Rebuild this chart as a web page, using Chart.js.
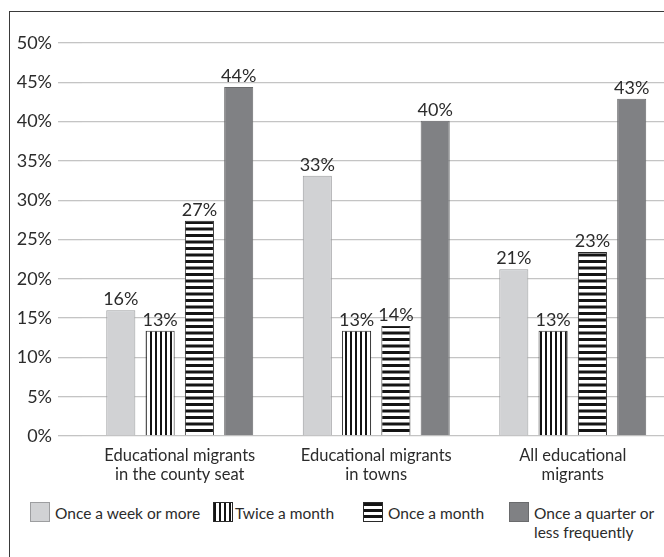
<!DOCTYPE html>
<html>
<head>
<meta charset="utf-8">
<script src="https://cdn.jsdelivr.net/npm/chart.js@4"></script>
<style>
  html, body { margin: 0; padding: 0; background: #fff; overflow: hidden; width: 664px; height: 557px; }
  #marco { position: absolute; left: 9px; top: 11px; width: 700px; height: 600px; border-left: 1.5px solid #3a3a3a; border-top: 1.5px solid #3a3a3a; }
  #lienzo { position: absolute; left: 0; top: 0; width: 672px; height: 500px; }
  .ley { position: absolute; font-family: Lato, sans-serif; font-size: 15.5px; color: #2b2b2b; line-height: 19px; white-space: nowrap; }
  .caja { position: absolute; width: 20px; height: 20px; box-sizing: border-box; }
</style>
</head>
<body>
<div id="marco"></div>
<div id="lienzo"><canvas id="grafico"></canvas></div>
<div id="leyenda"></div>
<script>
// Frecuencia de visitas a casa, por tipo de migrante educativo (%)
const categorias = [
  ["Educational migrants", "in the county seat"],
  ["Educational migrants", "in towns"],
  ["All educational", "migrants"],
];
const series = ["Once a week or more", "Twice a month", "Once a month", "Once a quarter or\nless frequently"];
const semanal = [16.0, 33.1, 21.2];
const quincenal = [13.4, 13.4, 13.4];
const mensual = [27.4, 14.0, 23.4];
const trimestral = [44.4, 40.1, 42.9];
const ejeY = { min: 0, max: 50, paso: 5 };

const FUENTE = "Lato, sans-serif";
const COLOR_TEXTO = "#2b2b2b";

function rayado(vertical) {
  const c = document.createElement("canvas");
  c.width = vertical ? 5 : 13;
  c.height = 13;
  const g = c.getContext("2d");
  g.fillStyle = "#fff";
  g.fillRect(0, 0, c.width, c.height);
  g.fillStyle = "#141414";
  if (vertical) {
    g.fillRect(0, 0, 2, c.height);
  } else {
    g.fillRect(0, 0, c.width, 3);
    g.fillRect(0, 6.5, c.width, 3);
  }
  return g.createPattern(c, "repeat");
}

const etiquetasValor = {
  id: "etiquetasValor",
  afterDatasetsDraw(chart) {
    const ctx = chart.ctx;
    ctx.save();
    ctx.font = "18px " + FUENTE;
    ctx.fillStyle = COLOR_TEXTO;
    ctx.textAlign = "center";
    ctx.textBaseline = "alphabetic";
    chart.data.datasets.forEach((ds, i) => {
      chart.getDatasetMeta(i).data.forEach((barra, j) => {
        ctx.fillText(Math.round(ds.data[j]) + "%", barra.x, barra.y - 5);
      });
    });
    ctx.restore();
  },
};

new Chart(document.getElementById("grafico"), {
  type: "bar",
  data: {
    labels: categorias,
    datasets: [
      { label: series[0], data: semanal, backgroundColor: "#d1d2d4", borderColor: "#9d9ea0" },
      { label: series[1], data: quincenal, backgroundColor: rayado(true), borderColor: "#2a2a2a" },
      { label: series[2], data: mensual, backgroundColor: rayado(false), borderColor: "#2a2a2a" },
      { label: series[3], data: trimestral, backgroundColor: "#808184", borderColor: "#6a6b6d" },
    ].map(d => Object.assign(d, { borderWidth: 1, barPercentage: 0.74, categoryPercentage: 0.8 })),
  },
  options: {
    responsive: true,
    maintainAspectRatio: false,
    animation: false,
    events: [],
    layout: { padding: { top: 43, left: 16, right: 1, bottom: 0 } },
    plugins: { legend: { display: false }, tooltip: { enabled: false } },
    scales: {
      x: {
        grid: { display: false },
        border: { display: false },
        ticks: { color: COLOR_TEXTO, font: { family: FUENTE, size: 16.5, lineHeight: 1.15 }, padding: 2, maxRotation: 0, autoSkip: false },
        afterFit: s => { s.height = 64; },
      },
      y: {
        min: ejeY.min,
        max: ejeY.max,
        border: { display: false },
        grid: { color: "#c4c4c4", lineWidth: 1.3, tickLength: 23.5, tickColor: "#c4c4c4" },
        ticks: { stepSize: ejeY.paso, color: COLOR_TEXTO, font: { family: FUENTE, size: 18 }, padding: 6, callback: v => v + "%" },
        afterFit: s => { s.width = 65.5; },
      },
    },
  },
  plugins: [etiquetasValor],
});

// Leyenda en HTML con las mismas tramas
const estilosCaja = [
  "background:#d1d2d4;border:1px solid #9d9ea0",
  "background:repeating-linear-gradient(90deg,#141414 0 2px,#fff 2px 5px);border:1px solid #2a2a2a",
  "background:repeating-linear-gradient(180deg,#141414 0 3px,#fff 3px 6px);border:1px solid #2a2a2a",
  "background:#808184;border:1px solid #6a6b6d",
];
const posCaja = [30, 213, 363, 509];
const posTexto = [55, 235, 388, 534];
document.getElementById("leyenda").innerHTML = series.map((s, i) =>
  `<div class="caja" style="left:${posCaja[i]}px;top:502px;${estilosCaja[i]}"></div>` +
  `<div class="ley" style="left:${posTexto[i]}px;top:504px">${s.replace("\n", "<br>")}</div>`
).join("");
</script>
</body>
</html>
